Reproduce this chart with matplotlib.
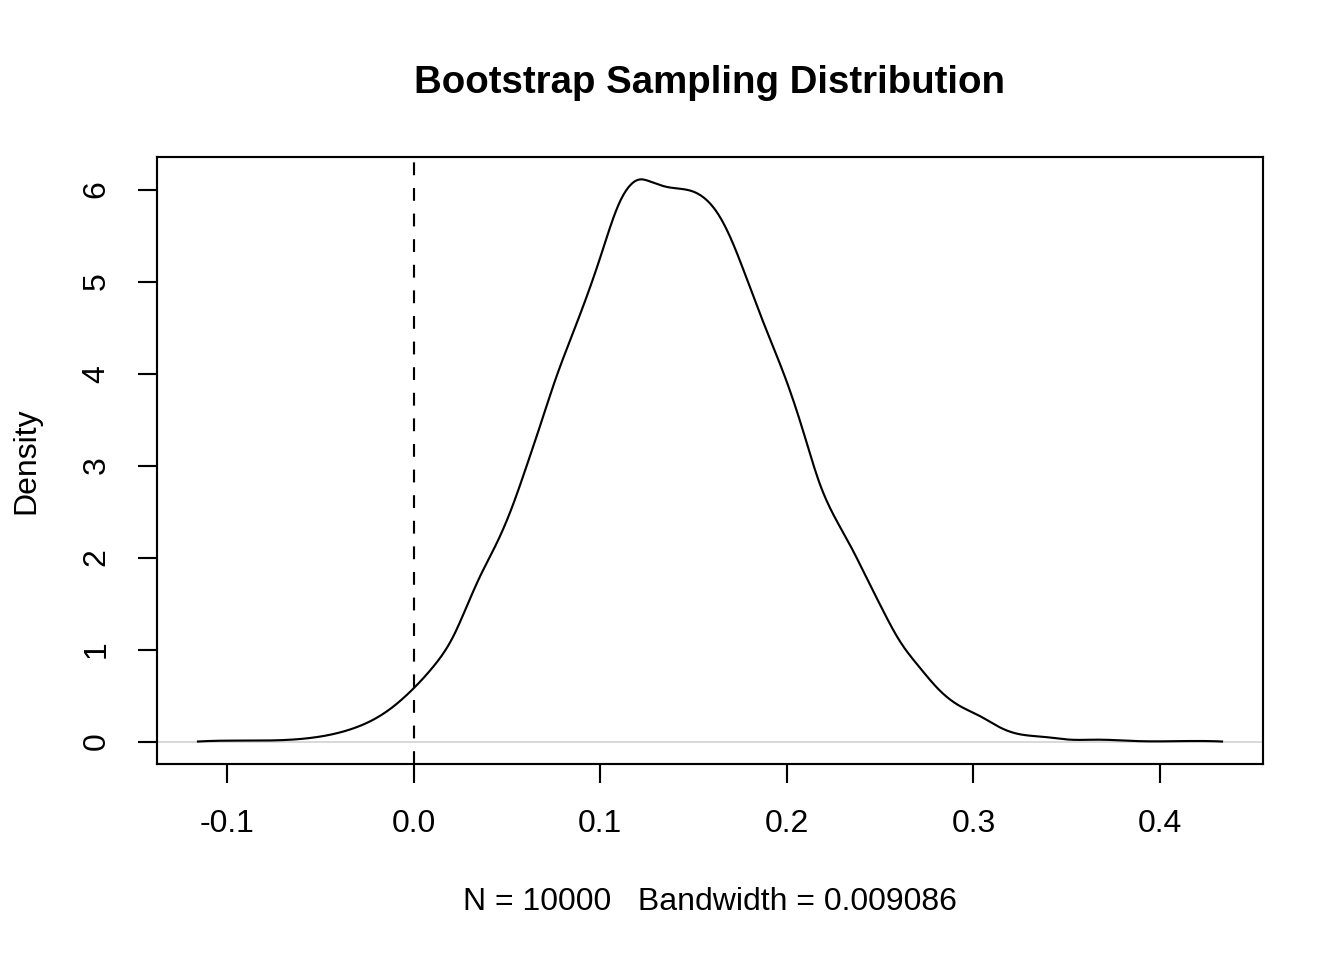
import matplotlib
matplotlib.use("Agg")
import matplotlib.pyplot as plt
import numpy as np

plt.rcParams['font.family'] = ['Liberation Sans', 'DejaVu Sans']

# Density curve
x_vals = [-0.1157, -0.0841, -0.0514, -0.0343, -0.0150, 0.0, 0.0103, 0.0211, 0.0282,
          0.0354, 0.0443, 0.0514, 0.0604, 0.0693, 0.0755, 0.0853, 0.0996, 0.1103,
          0.1157, 0.1210, 0.1264, 0.1354, 0.1425, 0.1496, 0.1568, 0.1639, 0.1710,
          0.1800, 0.1889, 0.1996, 0.2085, 0.2175, 0.2246, 0.2335, 0.2425, 0.2514,
          0.2603, 0.2710, 0.2817, 0.2924, 0.3032, 0.3156, 0.3246, 0.3380, 0.3519,
          0.3660, 0.3888, 0.4100, 0.4333]
density = [0.0, 0.01, 0.05, 0.13, 0.32, 0.58, 0.81, 1.14, 1.46,
           1.79, 2.15, 2.48, 2.99, 3.53, 3.91, 4.44, 5.24, 5.86,
           6.04, 6.11, 6.09, 6.03, 6.01, 5.98, 5.89, 5.71, 5.42,
           4.95, 4.48, 3.93, 3.39, 2.81, 2.48, 2.15, 1.79, 1.43,
           1.10, 0.81, 0.56, 0.39, 0.28, 0.14, 0.08, 0.05, 0.02,
           0.02, 0.004, 0.004, 0.0]
x_ticks = [-0.1, 0.0, 0.1, 0.2, 0.3, 0.4]
x_tick_labels = ["-0.1", "0.0", "0.1", "0.2", "0.3", "0.4"]
y_ticks = [0, 1, 2, 3, 4, 5, 6]
ref_line_x = 0.0

title = "Bootstrap Sampling Distribution"
xlabel = "N = 10000   Bandwidth = 0.009086"
ylabel = "Density"

fig = plt.figure(figsize=(7, 5), dpi=192)
ax = fig.add_axes([157/1344, 1 - 764/960, (1263-157)/1344, (764-157)/960])

# smooth the read points
try:
    from scipy.interpolate import PchipInterpolator, CubicSpline
    xs = np.linspace(x_vals[0], x_vals[-1], 800)
    ys = CubicSpline(x_vals, density)(xs)
    ys = np.maximum(ys, 0.0)
except Exception:
    xs, ys = x_vals, density

ax.axhline(0, color='#d0d0d0', lw=0.6, zorder=1)
ax.plot(xs, ys, color='black', lw=0.8, zorder=3)
ax.axvline(ref_line_x, color='black', lw=0.8, linestyle=(0, (6, 6)), zorder=2)

xmin, xmax = min(x_vals), max(x_vals)
dx = (xmax - xmin) * 0.04
ax.set_xlim(xmin - dx, xmax + dx)
ymax = max(density)
ax.set_ylim(-ymax * 0.04, ymax * 1.04)

ax.set_xticks(x_ticks)
ax.set_xticklabels(x_tick_labels)
ax.set_yticks(y_ticks)
ax.set_yticklabels([str(v) for v in y_ticks], rotation=90, va='center')

for s in ax.spines.values():
    s.set_linewidth(0.8)
ax.tick_params(direction='out', length=7, width=0.8, labelsize=12, pad=10)

ax.set_xlabel(xlabel, fontsize=12, labelpad=18)
ax.set_ylabel(ylabel, fontsize=12, labelpad=15)
ax.set_title(title, fontsize=14.4, fontweight='bold', pad=24)

fig.savefig("out.png", dpi=192)
